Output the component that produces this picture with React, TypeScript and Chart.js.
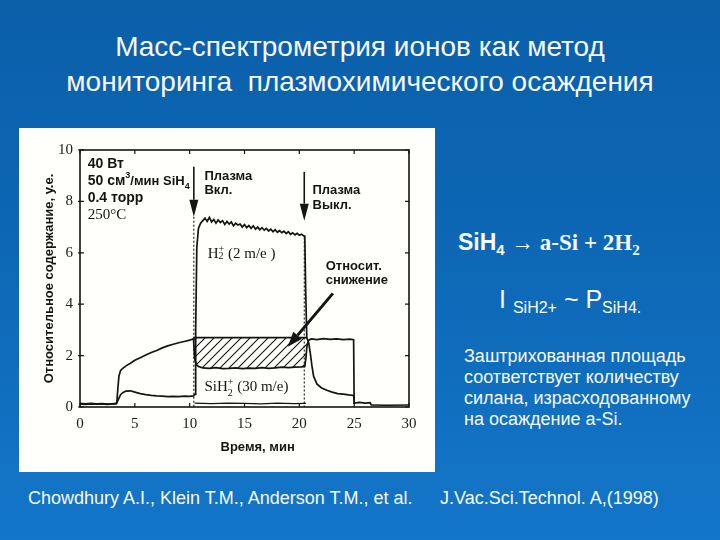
import React, { useEffect, useRef } from "react";
import { Chart, registerables } from "chart.js";

Chart.register(...registerables);

// ---------- data ----------
const siH2Time = [0, 0.5, 1, 1.5, 2, 2.5, 3, 3.35, 3.45, 3.55, 3.7, 3.9, 4.2, 4.6, 5, 5.5, 6, 6.5, 7, 7.5, 8, 8.5, 9, 9.5, 10, 10.35, 10.45, 10.6, 10.8, 11.2, 11.8, 12.4, 13, 13.6, 14.2, 14.8, 15.4, 16, 16.6, 17.2, 17.8, 18.4, 19, 19.6, 20.2, 20.5, 20.6, 20.7, 20.85, 21.1, 21.6, 22.2, 22.8, 23.4, 24, 24.6, 24.95, 25.0];
const siH2Value = [0.14, 0.12, 0.14, 0.12, 0.13, 0.11, 0.12, 0.15, 0.7, 1.2, 1.42, 1.5, 1.6, 1.7, 1.82, 1.92, 2.02, 2.12, 2.2, 2.3, 2.38, 2.44, 2.5, 2.55, 2.6, 2.66, 1.9, 1.65, 1.58, 1.52, 1.5, 1.53, 1.49, 1.5, 1.52, 1.49, 1.51, 1.5, 1.53, 1.5, 1.52, 1.55, 1.53, 1.55, 1.56, 1.58, 1.9, 2.4, 2.6, 2.65, 2.62, 2.66, 2.63, 2.65, 2.62, 2.64, 2.62, 0.12];

const h2Time = [
  0, 0.5, 1, 1.5, 2, 2.5, 3, 3.3, 3.5, 3.7, 3.9, 4.2, 4.6, 5, 5.5, 6, 6.5, 7, 7.5, 8, 8.5, 9, 9.5, 10, 10.35, 10.5, 10.55, 10.65, 10.8, 11.0, 11.2,
  11.4, 11.6, 11.8, 12.0, 12.2, 12.4, 12.6, 12.8, 13.0, 13.2, 13.4, 13.6, 13.8, 14.0, 14.2, 14.4, 14.6, 14.8, 15.0, 15.2,
  15.4, 15.6, 15.8, 16.0, 16.2, 16.4, 16.6, 16.8, 17.0, 17.2, 17.4, 17.6, 17.8, 18.0, 18.2, 18.4, 18.6, 18.8, 19.0, 19.2,
  19.4, 19.6, 19.8, 20.0, 20.2, 20.4,
  20.5, 20.58, 20.68, 20.85, 21.0, 21.15, 21.3, 21.6, 22.0, 22.5, 23.0, 23.5, 24.0, 24.5, 24.95, 25.02, 25.5, 26.0, 26.45, 26.55,
];
const h2Value = [
  0.12, 0.1, 0.12, 0.11, 0.12, 0.1, 0.12, 0.12, 0.3, 0.48, 0.56, 0.62, 0.63, 0.58, 0.52, 0.48, 0.45, 0.43, 0.42, 0.4, 0.41, 0.4, 0.42, 0.41, 0.43, 0.5, 3.0, 6.2, 6.95, 7.15, 7.25,
  7.35, 7.22, 7.38, 7.2, 7.3, 7.15, 7.28, 7.18, 7.25, 7.1, 7.22, 7.12, 7.2, 7.05, 7.15, 7.08, 7.12, 7.0, 7.1, 6.98,
  7.06, 6.95, 7.05, 6.92, 7.0, 6.9, 6.98, 6.88, 6.95, 6.85, 6.92, 6.82, 6.9, 6.8, 6.86, 6.78, 6.84, 6.75, 6.82, 6.72,
  6.78, 6.7, 6.76, 6.68, 6.72, 6.66,
  6.65, 4.5, 2.7, 2.5, 2.1, 1.6, 1.2, 0.9, 0.75, 0.65, 0.58, 0.52, 0.5, 0.47, 0.45, 0.15, 0.18, 0.15, 0.17, 0.08,
];

const baseTime = [10.45, 12, 13.5, 15, 16.5, 18, 19.5, 20.6, 23, 26.5, 28, 30];
const baseValue = [0.15, 0.13, 0.15, 0.14, 0.12, 0.15, 0.13, 0.14, null, 0.08, 0.07, 0.08];

const hatchLevel = 2.7;
const hatchStart = 10.35;
const hatchEnd = 20.7;
const plasmaOn = 10.38;
const plasmaOff = 20.45;

const xTickValues = [0, 5, 10, 15, 20, 25, 30];
const yTickValues = [0, 2, 4, 6, 8, 10];

const SANS = "'Liberation Sans', Arial, Helvetica, sans-serif";
const SERIF = "'Liberation Serif', 'Times New Roman', serif";
const INK = "#141414";

type Part = { t: string; font: string; dy?: number; noAdvance?: boolean };

function drawRich(ctx: CanvasRenderingContext2D, x: number, y: number, parts: Part[]) {
  let cx = x;
  ctx.textAlign = "left";
  ctx.textBaseline = "alphabetic";
  for (const p of parts) {
    ctx.font = p.font;
    ctx.fillText(p.t, cx, y + (p.dy || 0));
    if (!p.noAdvance) cx += ctx.measureText(p.t).width;
  }
}

function drawArrow(ctx: CanvasRenderingContext2D, x1: number, y1: number, x2: number, y2: number, lw: number, headLen: number, headW: number) {
  const ang = Math.atan2(y2 - y1, x2 - x1);
  const bx = x2 - headLen * Math.cos(ang);
  const by = y2 - headLen * Math.sin(ang);
  ctx.save();
  ctx.strokeStyle = INK;
  ctx.fillStyle = INK;
  ctx.lineWidth = lw;
  ctx.setLineDash([]);
  ctx.beginPath();
  ctx.moveTo(x1, y1);
  ctx.lineTo(bx, by);
  ctx.stroke();
  ctx.beginPath();
  ctx.moveTo(x2, y2);
  ctx.lineTo(bx + (headW / 2) * Math.sin(ang), by - (headW / 2) * Math.cos(ang));
  ctx.lineTo(bx - (headW / 2) * Math.sin(ang), by + (headW / 2) * Math.cos(ang));
  ctx.closePath();
  ctx.fill();
  ctx.restore();
}

const annotationPlugin = {
  id: "slideAnnotations",
  afterDatasetsDraw(chart: any) {
    const ctx: CanvasRenderingContext2D = chart.ctx;
    const xs = chart.scales.x;
    const ys = chart.scales.y;
    const px = (v: number) => xs.getPixelForValue(v);
    const py = (v: number) => ys.getPixelForValue(v);
    const area = chart.chartArea;
    ctx.save();

    // frame
    ctx.strokeStyle = INK;
    ctx.lineWidth = 1.6;
    ctx.strokeRect(area.left, area.top, area.right - area.left, area.bottom - area.top);

    // inward ticks
    ctx.lineWidth = 1.2;
    ctx.beginPath();
    for (const v of xTickValues) {
      const x = px(v);
      ctx.moveTo(x, area.bottom);
      ctx.lineTo(x, area.bottom - 4);
      ctx.moveTo(x, area.top);
      ctx.lineTo(x, area.top + 4);
    }
    for (const v of yTickValues) {
      const y = py(v);
      ctx.moveTo(area.left - 2, y);
      ctx.lineTo(area.left + 4, y);
      ctx.moveTo(area.right, y);
      ctx.lineTo(area.right - 4, y);
    }
    ctx.stroke();

    // dotted plasma on/off lines
    ctx.lineWidth = 1.1;
    ctx.setLineDash([2, 2]);
    ctx.beginPath();
    ctx.moveTo(px(plasmaOn), py(7.4));
    ctx.lineTo(px(plasmaOn), py(0));
    ctx.moveTo(px(plasmaOff), py(6.6));
    ctx.lineTo(px(plasmaOff), py(0));
    ctx.stroke();
    ctx.setLineDash([]);

    // arrows
    drawArrow(ctx, px(plasmaOn), py(9.35), px(plasmaOn), py(7.4), 1.6, 17, 9);
    drawArrow(ctx, px(plasmaOff), py(9.15), px(plasmaOff), py(7.25), 1.6, 17, 9);
    drawArrow(ctx, px(23.06), py(4.42), px(18.95), py(2.34), 3, 15, 11);

    // texts
    ctx.fillStyle = INK;
    const sb = `bold 13px ${SANS}`;
    const sbs = `bold 9px ${SANS}`;
    const sr = `15px ${SERIF}`;
    const srs = `10px ${SERIF}`;
    const labels: { x: number; y: number; parts: Part[] }[] = [
      { x: 0.7, y: 9.3, parts: [{ t: "40 Вт", font: `bold 14px ${SANS}` }] },
      { x: 0.7, y: 8.63, parts: [{ t: "50 см", font: `bold 14px ${SANS}` }, { t: "3", font: sbs, dy: -7 }, { t: "/мин SiH", font: sb }, { t: "4", font: sbs, dy: 4 }] },
      { x: 0.7, y: 7.97, parts: [{ t: "0.4 торр", font: `bold 14px ${SANS}` }] },
      { x: 0.7, y: 7.3, parts: [{ t: "250°C", font: sr }] },
      { x: 11.35, y: 8.85, parts: [{ t: "Плазма", font: sb }] },
      { x: 11.35, y: 8.27, parts: [{ t: "Вкл.", font: sb }] },
      { x: 21.2, y: 8.27, parts: [{ t: "Плазма", font: sb }] },
      { x: 21.2, y: 7.69, parts: [{ t: "Выкл.", font: sb }] },
      { x: 11.65, y: 5.8, parts: [{ t: "H", font: sr }, { t: "2", font: srs, dy: 1, noAdvance: true }, { t: "+", font: srs, dy: -6 }, { t: " (2 m/e )", font: sr }] },
      { x: 22.4, y: 5.35, parts: [{ t: "Относит.", font: sb }] },
      { x: 22.4, y: 4.77, parts: [{ t: "снижение", font: sb }] },
      { x: 11.35, y: 0.63, parts: [{ t: "SiH", font: sr }, { t: "2", font: srs, dy: 5, noAdvance: true }, { t: "+", font: srs, dy: -6 }, { t: " (30 m/e)", font: sr }] },
    ];
    for (const l of labels) drawRich(ctx, px(l.x), py(l.y), l.parts);

    // x axis title
    ctx.font = `bold 13px ${SANS}`;
    ctx.textAlign = "center";
    ctx.textBaseline = "middle";
    ctx.fillText("Время, мин", px(16.2), area.bottom + 40);
    ctx.restore();
  },
};

function makeHatch(): CanvasPattern | string {
  const s = 9;
  const c = document.createElement("canvas");
  c.width = s;
  c.height = s;
  const g = c.getContext("2d");
  if (!g) return "rgba(0,0,0,0.3)";
  g.strokeStyle = INK;
  g.lineWidth = 1.1;
  g.beginPath();
  g.moveTo(-1, 1);
  g.lineTo(1, -1);
  g.moveTo(0, s);
  g.lineTo(s, 0);
  g.moveTo(s - 1, s + 1);
  g.lineTo(s + 1, s - 1);
  g.stroke();
  const p = g.createPattern(c, "repeat");
  return p || "rgba(0,0,0,0.3)";
}

function ChartPanel() {
  const ref = useRef<HTMLCanvasElement | null>(null);
  useEffect(() => {
    if (!ref.current) return;
    const toPts = (xs: number[], ys: (number | null)[]) => xs.map((x, i) => ({ x, y: ys[i] }));
    const hatchIdx = siH2Time.map((t, i) => i).filter((i) => siH2Time[i] >= hatchStart && siH2Time[i] <= hatchEnd);
    const hatchBottom = hatchIdx.map((i) => ({ x: siH2Time[i], y: siH2Value[i] }));
    const hatchTop = hatchIdx.map((i) => ({ x: siH2Time[i], y: hatchLevel }));
    const lineCommon = { borderColor: INK, pointRadius: 0, tension: 0, fill: false };
    const tickFont = { family: SERIF, size: 15 };
    const chart = new Chart(ref.current, {
      type: "line",
      data: {
        datasets: [
          { label: "SiH2+ (30 m/e)", data: toPts(siH2Time, siH2Value), borderWidth: 1.7, ...lineCommon },
          { label: "H2+ (2 m/e)", data: toPts(h2Time, h2Value), borderWidth: 1.7, ...lineCommon },
          { label: "фон", data: toPts(baseTime, baseValue), borderWidth: 1.4, spanGaps: false, ...lineCommon },
          { label: "hatch-bottom", data: hatchBottom, borderWidth: 0, ...lineCommon },
          { label: "hatch-top", data: hatchTop, borderWidth: 1.7, borderColor: INK, pointRadius: 0, tension: 0, fill: 3, backgroundColor: makeHatch() as any },
        ],
      },
      options: {
        animation: false,
        responsive: false,
        devicePixelRatio: 1,
        layout: { padding: { left: 0, top: 22, right: 26, bottom: 0 } },
        plugins: { legend: { display: false }, tooltip: { enabled: false }, title: { display: false } },
        scales: {
          x: {
            type: "linear",
            min: 0,
            max: 30,
            grid: { display: false, drawTicks: false },
            border: { display: false },
            afterBuildTicks: (s: any) => { s.ticks = xTickValues.map((v) => ({ value: v })); },
            afterFit: (s: any) => { s.height = 65; },
            ticks: { font: tickFont, color: "#1a1a1a", padding: 8, maxRotation: 0, autoSkip: false },
          },
          y: {
            type: "linear",
            min: 0,
            max: 10,
            grid: { display: false, drawTicks: false },
            border: { display: false },
            afterBuildTicks: (s: any) => { s.ticks = yTickValues.map((v) => ({ value: v })); },
            afterFit: (s: any) => { s.width = 61; },
            ticks: { font: tickFont, color: "#1a1a1a", padding: 7, autoSkip: false },
            title: { display: true, text: "Относительное содержание, у.е.", color: INK, font: { family: SANS, size: 13, weight: "bold" }, padding: { top: 23, bottom: 0 } },
          },
        },
      },
      plugins: [annotationPlugin],
    } as any);
    return () => chart.destroy();
  }, []);
  return <canvas ref={ref} width={416} height={344} style={{ display: "block", width: 416, height: 344 }} />;
}

export default function App() {
  const white = "#f6f9ff";
  const sub = (size: number, top: number) => ({ fontSize: size, position: "relative" as const, top });
  return (
    <div
      style={{
        position: "fixed",
        left: 0,
        top: 0,
        width: 720,
        height: 540,
        overflow: "hidden",
        background: "linear-gradient(180deg, #0b5fa9 0%, #0d67b5 45%, #1476c9 100%)",
        fontFamily: SANS,
        color: white,
      }}
    >
      <div style={{ position: "absolute", left: 0, top: 29, width: 720, textAlign: "center", fontSize: 28, lineHeight: "35px", whiteSpace: "pre" }}>
        <div>Масс-спектрометрия ионов как метод</div>
        <div>мониторинга  плазмохимического осаждения</div>
      </div>

      <div style={{ position: "absolute", left: 19, top: 128, width: 416, height: 344, background: "#fffffc" }}>
        <ChartPanel />
      </div>

      <div style={{ position: "absolute", left: 458, top: 229, fontSize: 23, lineHeight: "26px", fontWeight: "bold", whiteSpace: "nowrap" }}>
        <span style={{ fontFamily: SANS }}>
          SiH<span style={sub(15, 5)}>4</span>{" "}
        </span>
        <span style={{ fontFamily: SERIF }}>
          → a-Si + 2H<span style={sub(15, 5)}>2</span>
        </span>
      </div>

      <div style={{ position: "absolute", left: 499, top: 284, fontSize: 25, lineHeight: "30px", whiteSpace: "nowrap", fontFamily: SANS }}>
        I <span style={sub(16, 5)}>SiH2+</span> ~ P<span style={sub(16, 5)}>SiH4.</span>
      </div>

      <div style={{ position: "absolute", left: 464, top: 346, fontSize: 18, lineHeight: "21px", whiteSpace: "nowrap", fontFamily: SANS }}>
        <div>Заштрихованная площадь</div>
        <div>соответствует количеству</div>
        <div>силана, израсходованному</div>
        <div>на осаждение a-Si.</div>
      </div>

      <div style={{ position: "absolute", left: 28, top: 487, fontSize: 18, lineHeight: "22px", whiteSpace: "nowrap" }}>
        Chowdhury A.I., Klein T.M., Anderson T.M., et al.
      </div>
      <div style={{ position: "absolute", left: 440, top: 487, fontSize: 18, lineHeight: "22px", whiteSpace: "nowrap" }}>
        J.Vac.Sci.Technol. A,(1998)
      </div>
    </div>
  );
}
